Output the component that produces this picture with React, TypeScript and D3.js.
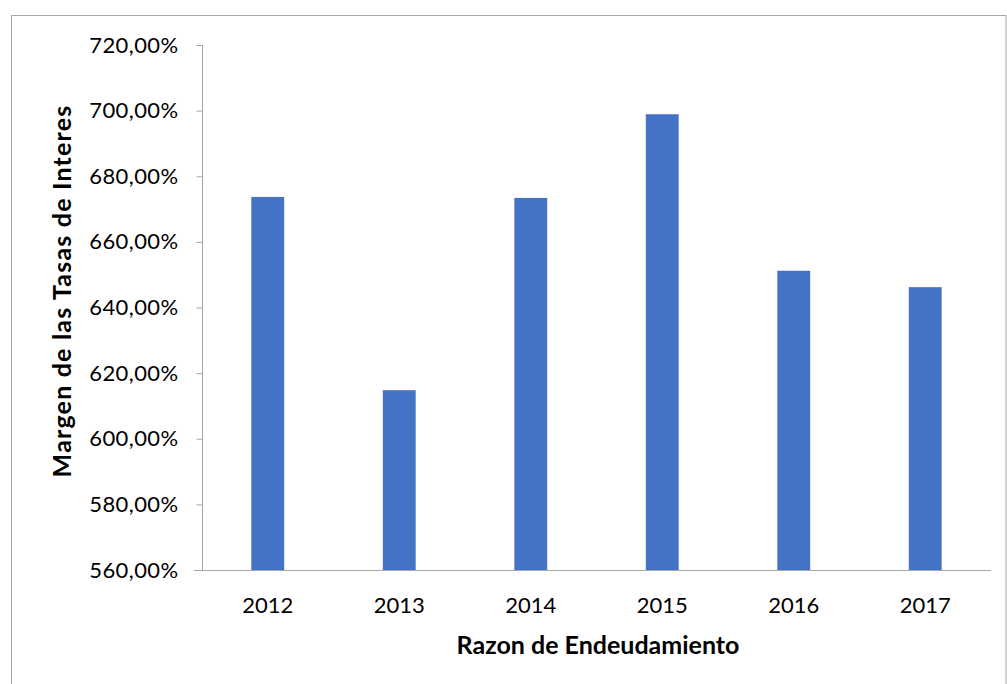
import React, { useRef, useEffect } from 'react';
import * as d3 from 'd3';

const years = ['2012', '2013', '2014', '2015', '2016', '2017'];
const margen = [673.7, 614.8, 673.4, 698.9, 651.2, 646.2];
const yTicks = [560, 580, 600, 620, 640, 660, 680, 700, 720];

const App = () => {
  const ref = useRef<SVGSVGElement | null>(null);
  const width = 1007;
  const height = 684;
  const plot = { left: 202, right: 991, top: 45, bottom: 570 };

  useEffect(() => {
    if (!ref.current) return;
    const svg = d3.select(ref.current);
    svg.selectAll('*').remove();
    const font = 'Lato, "Open Sans", sans-serif';

    // chart area border
    svg
      .append('rect')
      .attr('x', 11.5)
      .attr('y', 15.5)
      .attr('width', 1006 - 11.5)
      .attr('height', 700)
      .attr('fill', '#fff')
      .attr('stroke', '#a6a6a6')
      .attr('stroke-width', 1);

    const x = d3
      .scaleBand()
      .domain(years)
      .range([plot.left, plot.right])
      .paddingInner(0.75)
      .paddingOuter(0.375);

    const y = d3.scaleLinear().domain([560, 720]).range([plot.bottom, plot.top]);

    svg
      .append('g')
      .selectAll('rect')
      .data(years)
      .join('rect')
      .attr('x', (d) => x(d) ?? 0)
      .attr('y', (d, i) => y(margen[i]))
      .attr('width', x.bandwidth())
      .attr('height', (d, i) => plot.bottom - y(margen[i]))
      .attr('fill', '#4472c4');

    // y axis
    const yAxis = d3
      .axisLeft(y)
      .tickValues(yTicks)
      .tickSize(6)
      .tickPadding(18)
      .tickFormat((d) => d3.format('.2f')(d as number).replace('.', ',') + '%');
    const gy = svg
      .append('g')
      .attr('transform', `translate(${plot.left + 0.5},0)`)
      .call(yAxis);
    gy.select('.domain').attr('stroke', '#a6a6a6').attr('d', `M-0,${plot.top}V${plot.bottom}`);
    gy.selectAll('.tick line').attr('stroke', '#a6a6a6');
    gy.selectAll('.tick text')
      .attr('font-family', font)
      .attr('font-size', 22)
      .attr('letter-spacing', 0.4)
      .attr('fill', '#000');

    // x axis
    const xAxis = d3.axisBottom(x).tickSize(0).tickPadding(27);
    const gx = svg
      .append('g')
      .attr('transform', `translate(0,${plot.bottom + 0.5})`)
      .call(xAxis);
    gx.select('.domain').attr('stroke', '#a6a6a6').attr('d', `M${plot.left - 8},0H${plot.right}`);
    gx.selectAll('.tick text')
      .attr('font-family', font)
      .attr('font-size', 22)
      .attr('fill', '#000');

    svg
      .append('text')
      .attr('x', 598)
      .attr('y', 654)
      .attr('text-anchor', 'middle')
      .attr('font-family', font)
      .attr('font-weight', 'bold')
      .attr('font-size', 25)
      .text('Razon de Endeudamiento');

    svg
      .append('text')
      .attr('transform', `translate(71,291) rotate(-90)`)
      .attr('text-anchor', 'middle')
      .attr('font-family', font)
      .attr('font-weight', 'bold')
      .attr('font-size', 25)
      .attr('letter-spacing', 1.2)
      .text('Margen de las Tasas de Interes');
  }, []);

  return (
    <svg
      ref={ref}
      width={width}
      height={height}
      style={{ position: 'absolute', left: 0, top: 0, background: '#fff' }}
    />
  );
};

export default App;
